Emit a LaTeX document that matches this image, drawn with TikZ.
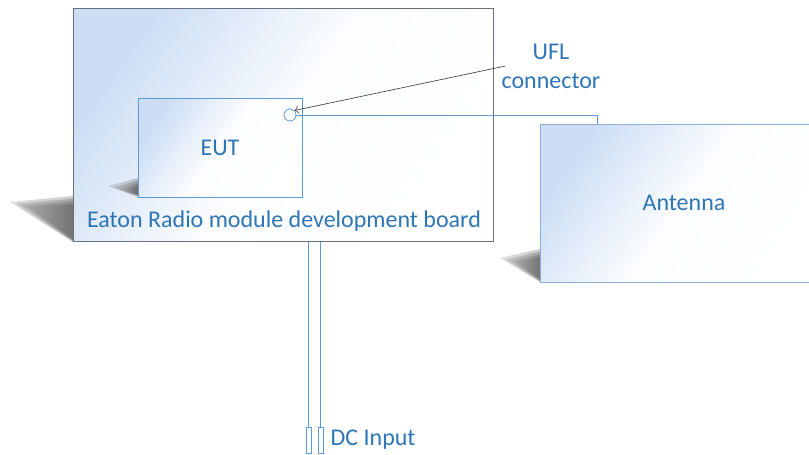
\documentclass[tikz,border=0pt]{standalone}
\usepackage{fontspec}
\setmainfont{Carlito}
\usetikzlibrary{arrows.meta, positioning, calc}

\definecolor{labelBlue}{RGB}{46, 117, 182}
\definecolor{lineBlue}{RGB}{91, 155, 213}
\definecolor{paneBlue}{RGB}{204, 221, 244}
\definecolor{boardGray}{RGB}{105, 112, 125}
\definecolor{antennaEdge}{RGB}{140, 175, 212}
\definecolor{shadowGray}{RGB}{110, 110, 110}

\tikzset{
    pane/.style={
        rectangle,
        top color=paneBlue,
        bottom color=white,
        middle color=white!94!paneBlue,
        shading angle=55,
        line width=0.8pt,
        inner sep=0pt,
        font=\fontsize{24}{29}\selectfont,
        text=labelBlue
    },
    board/.style={
        pane,
        draw=boardGray,
        minimum width=420pt,
        minimum height=233pt
    },
    eutBox/.style={
        pane,
        draw=lineBlue,
        minimum width=164pt,
        minimum height=99pt
    },
    antennaBox/.style={
        pane,
        draw=antennaEdge,
        minimum width=288pt,
        minimum height=158pt
    },
    shadowWedge/.style={
        left color=white,
        right color=shadowGray,
        opacity=0.14
    },
    tag/.style={
        font=\fontsize{24}{29}\selectfont,
        text=labelBlue,
        inner sep=0pt,
        align=center
    },
    port/.style={
        circle,
        draw=lineBlue,
        line width=0.8pt,
        minimum size=12pt,
        inner sep=0pt
    },
    pin/.style={
        rectangle,
        draw=lineBlue,
        line width=0.9pt,
        minimum width=5pt,
        minimum height=26pt,
        inner sep=0pt
    },
    wire/.style={
        draw=lineBlue,
        line width=0.9pt
    },
    pointer/.style={
        draw=black!80,
        line width=0.6pt,
        -{To[length=4pt]}
    }
}

% soft shadow: a few stacked wedges, tip at #1, edge from #2 to #3
\newcommand{\softShadow}[3]{%
    \foreach \k in {0,3,6,9}{
        \fill[shadowWedge] ($#1+(2*\k,0.5*\k)$) -- ($#2+(0,0.9*\k)$) -- ($#3+(0,-0.3*\k)$) -- cycle;
    }
}

\begin{document}
\begin{tikzpicture}[x=1pt, y=-1pt]
    \useasboundingbox (0,0) rectangle (809,455);

    % Shadows behind board and antenna
    \softShadow{(10,202)}{(73,196)}{(73,242)}
    \softShadow{(500,258)}{(540,249)}{(540,282)}

    % 1. Development board
    \node[board] (board) at (283,125) {};
    \node[tag] (boardlabel) at (284,221) {Eaton Radio module development board};

    % 2. EUT with its UFL port
    \softShadow{(108,186)}{(138,178)}{(138,197)}
    \node[eutBox] (eut) at (220,147.5) {EUT};
    \node[port] (ufl) at (290,115) {};

    % 3. Antenna (runs off the right edge)
    \node[antennaBox] (antenna) at (684,203) {Antenna};

    % 4. DC pins
    \node[pin] (pinA) at (308.5,440) {};
    \node[pin] (pinB) at (320.5,440) {};
    \node[tag, right=7pt of pinB] (dc) {DC Input};

    % Connections
    \draw[wire] (ufl.east) -| ([xshift=58pt]antenna.north west);
    \draw[wire] (pinA.north |- board.south) -- (pinA.north);
    \draw[wire] (pinB.north |- board.south) -- (pinB.north);

    % UFL callout
    \node[tag] (ufllabel) at (551,66) {UFL\\connector};
    \draw[pointer] ([xshift=4pt]ufllabel.west) -- (ufl.north east);
\end{tikzpicture}
\end{document}
